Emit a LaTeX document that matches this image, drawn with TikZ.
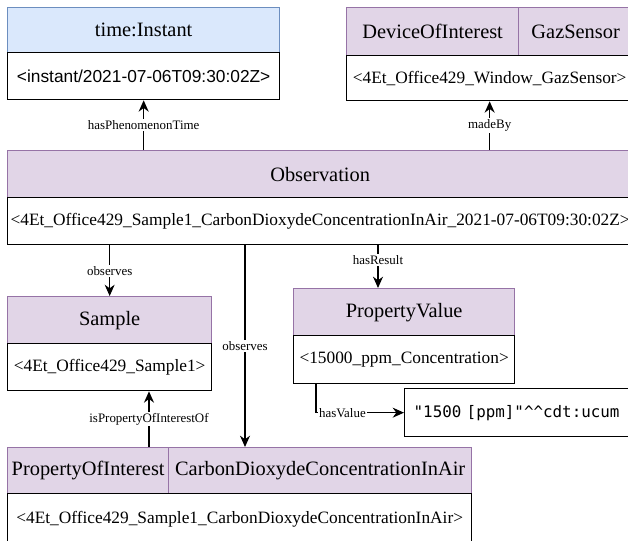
\documentclass[tikz,border=0pt]{standalone}
\usepackage{fontspec}
\setmainfont{Liberation Serif}
\newfontfamily\arialfont{Liberation Sans}
\newfontfamily\codefont{DejaVu Sans Mono}
\usepackage{tikz}
\usetikzlibrary{arrows.meta}
\definecolor{clsfill}{HTML}{E1D5E7}
\definecolor{clsdraw}{HTML}{9673A6}
\definecolor{timefill}{HTML}{DAE8FC}
\definecolor{timedraw}{HTML}{6C8EBF}
\tikzset{
  dims/.style 2 args={minimum width=#1*0.75pt, minimum height=#2*0.75pt},
  cls/.style={draw=clsdraw, fill=clsfill, line width=1pt, inner sep=0pt, anchor=north west, font=\fontsize{15.3}{18}\selectfont},
  tcls/.style={cls, draw=timedraw, fill=timefill},
  inst/.style={draw=black, fill=white, line width=1pt, inner sep=0pt, anchor=north west, font=\fontsize{13}{15}\selectfont},
  lit/.style={inst, inner xsep=6.75pt, text width=157.5pt, align=left, font=\codefont\fontsize{11.9}{14}\selectfont},
  link/.style={-{Stealth[length=8.5pt, width=7.5pt]}, line width=1pt},
  lbl/.style={fill=white, inner sep=1pt, font=\fontsize{9.7}{11}\selectfont}
}

\begin{document}
\begin{tikzpicture}[x=0.75pt, y=-0.75pt]
  \useasboundingbox (0,0) rectangle (628,540);
  \clip (0,0) rectangle (628,540);

  % time:Instant
  \node[tcls, dims={272}{45}] (timeH) at (7,7) {time:Instant};
  \node[inst, dims={272}{47}, font=\arialfont\fontsize{13}{15}\selectfont] (timeI) at (7,52) {<instant/2021-07-06T09:30:02Z>};

  % sensor
  \node[cls, dims={172}{48}] (devH) at (346,7) {DeviceOfInterest};
  \node[cls, dims={114}{48}] (gazH) at (518,7) {GazSensor};
  \node[inst, dims={286}{45}] (devI) at (346,55) {<4Et\_Office429\_Window\_GazSensor>};

  % observation
  \node[cls, dims={625}{47}] (obsH) at (7,150) {Observation};
  \node[inst, dims={625}{47}] (obsI) at (7,197) {<4Et\_Office429\_Sample1\_CarbonDioxydeConcentrationInAir\_2021-07-06T09:30:02Z>};

  % sample
  \node[cls, dims={204}{47}] (smpH) at (7,296) {Sample};
  \node[inst, dims={204}{47}] (smpI) at (7,343) {<4Et\_Office429\_Sample1>};

  % result
  \node[cls, dims={221}{47}] (pvH) at (293,288) {PropertyValue};
  \node[inst, dims={221}{48}] (pvI) at (293,335) {<15000\_ppm\_Concentration>};
  \node[lit, dims={228}{48}] (lit) at (404,388) {"1500 [ppm]"\textasciicircum\textasciicircum cdt:ucum};

  % property of interest
  \node[cls, dims={161}{46}] (poiH) at (7,447) {PropertyOfInterest};
  \node[cls, dims={303}{46}] (co2H) at (168,447) {CarbonDioxydeConcentrationInAir};
  \node[inst, dims={464}{52}] (poiI) at (7,493) {<4Et\_Office429\_Sample1\_CarbonDioxydeConcentrationInAir>};

  % links
  \coordinate (obsX) at (245,0);
  \coordinate (resX) at (378,0);
  \coordinate (valX) at (316,0);
  \coordinate (ofX) at (149,0);
  \draw[link] (obsH.north -| timeI.south) -- node[lbl]{hasPhenomenonTime} (timeI.south);
  \draw[link] (obsH.north -| devI.south) -- node[lbl]{madeBy} (devI.south);
  \draw[link] (obsI.south -| smpH.north) -- node[lbl]{observes} (smpH.north);
  \draw[link] (obsI.south -| obsX) -- node[lbl]{observes} (co2H.north -| obsX);
  \draw[link] (obsI.south -| resX) -- node[lbl, pos=0.35]{hasResult} (pvH.north -| resX);
  \draw[link] (pvI.south -| valX) |- node[lbl, pos=0.65]{hasValue} (lit.west);
  \draw[link] (poiH.north -| ofX) -- node[lbl]{isPropertyOfInterestOf} (smpI.south -| ofX);
\end{tikzpicture}
\end{document}
